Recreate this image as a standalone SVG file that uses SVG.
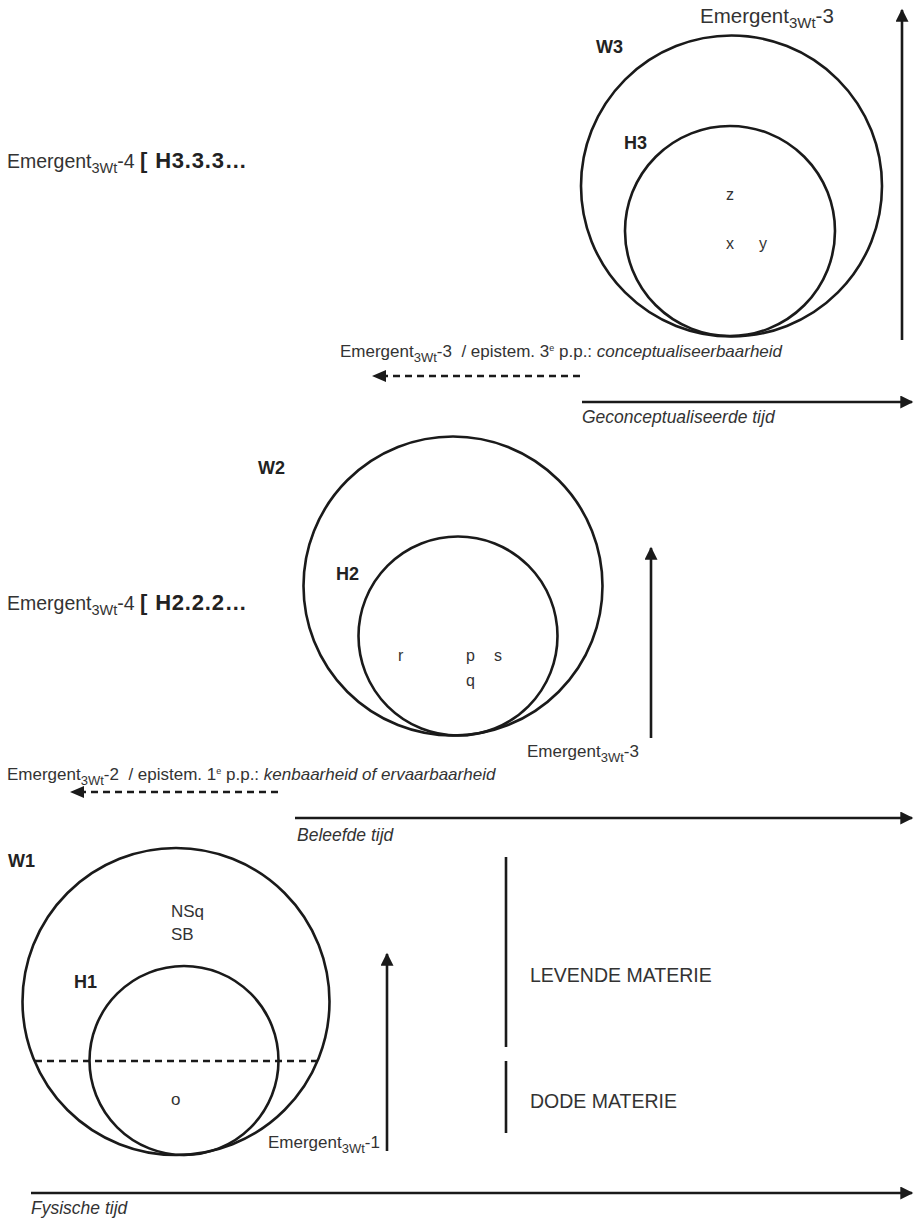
<svg xmlns="http://www.w3.org/2000/svg" width="916" height="1219" viewBox="0 0 916 1219">
<style>
.c{fill:none;stroke:#1a1a1a;stroke-width:2.6}
.t{font-family:"Liberation Sans",Arial,sans-serif;font-size:17px;fill:#333}
.s{font-size:16px}
.i{font-style:italic;font-size:17.5px}
.b{font-family:"Liberation Sans",Arial,sans-serif;font-size:18px;font-weight:bold;fill:#222}
.ln{stroke:#1a1a1a;stroke-width:2.6;fill:none}
.d{stroke:#1a1a1a;stroke-width:2.6;fill:none;stroke-dasharray:7 5}
.sub{font-size:13px}
.sup{font-size:9px}
.it{font-style:italic}
.big{font-size:19.5px}
.big .sub{font-size:14.5px}
.top{font-size:20.5px}
.top .sub{font-size:15px}
.mat{font-size:19.5px}
.bb{font-weight:bold;fill:#222;font-size:22px;letter-spacing:0.8px}
</style>
<defs>
<marker id="ah" viewBox="0 0 10 10" refX="9" refY="5" markerWidth="5.5" markerHeight="5" orient="auto" markerUnits="strokeWidth">
<path d="M0,0 L10,5 L0,10 z" fill="#1a1a1a"/>
</marker>
</defs>
<rect width="916" height="1219" fill="#fff"/>

<g id="W3">
<circle class="c" cx="731.5" cy="186" r="150.5"/>
<text class="b" x="596" y="53">W3</text>
</g>
<g id="H3">
<circle class="c" cx="730" cy="231" r="105"/>
<text class="b" x="624" y="149">H3</text>
<text class="t s" x="726" y="200">z</text>
<text class="t s" x="726" y="249">x</text>
<text class="t s" x="759" y="249">y</text>
</g>

<g id="W2">
<circle class="c" cx="453" cy="586" r="149.5"/>
<text class="b" x="258" y="474">W2</text>
</g>
<g id="H2">
<circle class="c" cx="458" cy="636" r="99.5"/>
<text class="b" x="336" y="580">H2</text>
<text class="t s" x="398" y="661">r</text>
<text class="t s" x="466" y="661">p</text>
<text class="t s" x="494" y="661">s</text>
<text class="t s" x="466" y="686">q</text>
</g>

<g id="W1">
<circle class="c" cx="176" cy="1001.5" r="153.5"/>
<text class="b" x="8" y="867">W1</text>
<text class="t" x="171" y="917">NSq</text>
<text class="t" x="171" y="940">SB</text>
</g>
<g id="H1">
<circle class="c" cx="184" cy="1060.5" r="94.5"/>
<text class="b" x="74" y="988">H1</text>
<text class="t" x="171" y="1105">o</text>
</g>
<line class="d" x1="35" y1="1061" x2="318" y2="1061"/>

<g id="connectors">
<line class="ln" x1="902" y1="340" x2="902" y2="10" marker-end="url(#ah)"/>
<line class="d" x1="580" y1="376" x2="386" y2="376"/>
<path d="M372,376 L386,370 L386,382 z" fill="#1a1a1a"/>
<line class="ln" x1="582" y1="402" x2="912" y2="402" marker-end="url(#ah)"/>
<line class="ln" x1="651" y1="738" x2="651" y2="548" marker-end="url(#ah)"/>
<line class="d" x1="278" y1="792" x2="84" y2="792"/>
<path d="M70,792 L84,786 L84,798 z" fill="#1a1a1a"/>
<line class="ln" x1="295" y1="818" x2="912" y2="818" marker-end="url(#ah)"/>
<line class="ln" x1="387" y1="1151" x2="387" y2="954" marker-end="url(#ah)"/>
<line class="ln" x1="31" y1="1193" x2="912" y2="1193" marker-end="url(#ah)"/>
<line class="ln" x1="506" y1="857" x2="506" y2="1047"/>
<line class="ln" x1="506" y1="1061" x2="506" y2="1133"/>
</g>

<g id="labels">
<text class="t top" x="700" y="23">Emergent<tspan class="sub" dy="5">3Wt</tspan><tspan dy="-5">-3</tspan></text>
<text class="t big" x="7" y="168" xml:space="preserve">Emergent<tspan class="sub" dy="5">3Wt</tspan><tspan dy="-5">-4 </tspan><tspan class="bb">[ H3.3.3…</tspan></text>
<text class="t" x="340" y="357" xml:space="preserve">Emergent<tspan class="sub" dy="5">3Wt</tspan><tspan dy="-5">-3  / epistem. 3</tspan><tspan class="sup" dy="-6">e</tspan><tspan dy="6"> p.p.: </tspan><tspan class="it">conceptualiseerbaarheid</tspan></text>
<text class="t i" x="582" y="423">Geconceptualiseerde tijd</text>
<text class="t big" x="7" y="610" xml:space="preserve">Emergent<tspan class="sub" dy="5">3Wt</tspan><tspan dy="-5">-4 </tspan><tspan class="bb">[ H2.2.2…</tspan></text>
<text class="t" x="527" y="757">Emergent<tspan class="sub" dy="5">3Wt</tspan><tspan dy="-5">-3</tspan></text>
<text class="t" x="7" y="780" xml:space="preserve">Emergent<tspan class="sub" dy="5">3Wt</tspan><tspan dy="-5">-2  / epistem. 1</tspan><tspan class="sup" dy="-6">e</tspan><tspan dy="6"> p.p.: </tspan><tspan class="it">kenbaarheid of ervaarbaarheid</tspan></text>
<text class="t i" x="297" y="841">Beleefde tijd</text>
<text class="t" x="268" y="1148">Emergent<tspan class="sub" dy="5">3Wt</tspan><tspan dy="-5">-1</tspan></text>
<text class="t i" x="31" y="1214">Fysische tijd</text>
<text class="t mat" x="530" y="982">LEVENDE MATERIE</text>
<text class="t mat" x="530" y="1108">DODE MATERIE</text>
</g>
</svg>
